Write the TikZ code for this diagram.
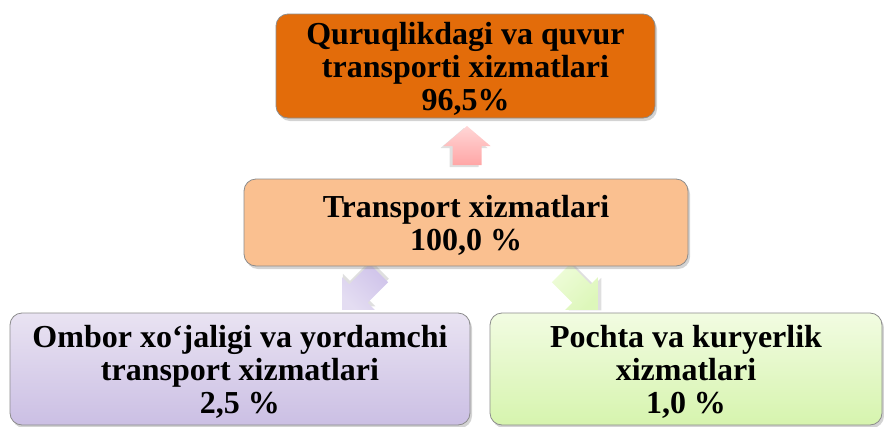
\documentclass[tikz,border=0pt]{standalone}
\usepackage{fontspec}
\setmainfont{Liberation Serif}
\usetikzlibrary{shadows,calc}
\definecolor{topfill}{HTML}{E36C0A}
\definecolor{midfill}{HTML}{FAC090}
\definecolor{purtop}{HTML}{E9E3F2}
\definecolor{purbot}{HTML}{CBBFE4}
\definecolor{grntop}{HTML}{F2FCE2}
\definecolor{grnbot}{HTML}{D6F4AE}
\definecolor{pinktop}{HTML}{FFD6D6}
\definecolor{pinkbot}{HTML}{FFA6A6}
\definecolor{lavtop}{HTML}{E4DDF2}
\definecolor{lavbot}{HTML}{CFC3EA}
\definecolor{limetop}{HTML}{EEFCD8}
\definecolor{limebot}{HTML}{DDF7BA}
\newcommand\tp{\rule{0pt}{27.5pt}}
\tikzset{
  box/.style={rounded corners=12pt, draw=black!45, line width=0.8pt,
    drop shadow={opacity=0.35, shadow xshift=2pt, shadow yshift=-3pt},
    align=center, inner sep=0pt,
    font=\fontsize{32}{33}\selectfont\bfseries},
  arr/.style={draw=none}
}
% block arrow: start, angle, top colour, bottom colour, shading angle, shadow x, shadow y
\newcommand\blkarrow[7]{%
  \begin{scope}[shift={#1}, rotate=#2]
    \path[arr, top color=#3, bottom color=#4, shading angle=#5,
      drop shadow={opacity=0.25, shadow xshift=#6pt, shadow yshift=#7pt}]
      (0,-13) -- (29,-13) -- (29,-23) -- (52,0) -- (29,23) -- (29,13) -- (0,13) -- cycle;
  \end{scope}}
\begin{document}
\begin{tikzpicture}[x=1pt,y=-1pt]
\useasboundingbox (0,0) rectangle (884,426);
% connectors (drawn first)
\coordinate (upstart) at (467,165);
\coordinate (lstart) at (379,273);
\coordinate (rstart) at (561,273);
\begin{scope}[shift={(upstart)}, rotate=90]
  \path[arr, top color=pinktop, bottom color=pinkbot,
    drop shadow={opacity=0.25, shadow xshift=-3pt, shadow yshift=-2pt}]
    (0,-14.5) -- (19,-14.5) -- (19,-23.5) -- (39,0) -- (19,23.5) -- (19,14.5) -- (0,14.5) -- cycle;
\end{scope}
\blkarrow{(lstart)}{225}{lavtop}{lavbot}{-225}{0.7}{3.5}
\blkarrow{(rstart)}{315}{limetop}{limebot}{-315}{3.5}{-0.7}
% boxes
\node[box, fill=topfill, minimum width=379pt, minimum height=104pt] (top) at (465.5,66)
  {\tp Quruqlikdagi va quvur\\transporti xizmatlari\\96,5\%};
\node[box, fill=midfill, minimum width=444pt, minimum height=87pt] (mid) at (466,222.5)
  {\tp Transport xizmatlari\\100,0 \%};
\node[box, top color=purtop, bottom color=purbot, minimum width=460pt, minimum height=112pt] (left) at (240,369)
  {\tp Ombor xo‘jaligi va yordamchi\\transport xizmatlari\\2,5 \%};
\node[box, top color=grntop, bottom color=grnbot, minimum width=392pt, minimum height=112pt] (right) at (686,369)
  {\tp Pochta va kuryerlik\\xizmatlari\\1,0 \%};
\end{tikzpicture}
\end{document}
